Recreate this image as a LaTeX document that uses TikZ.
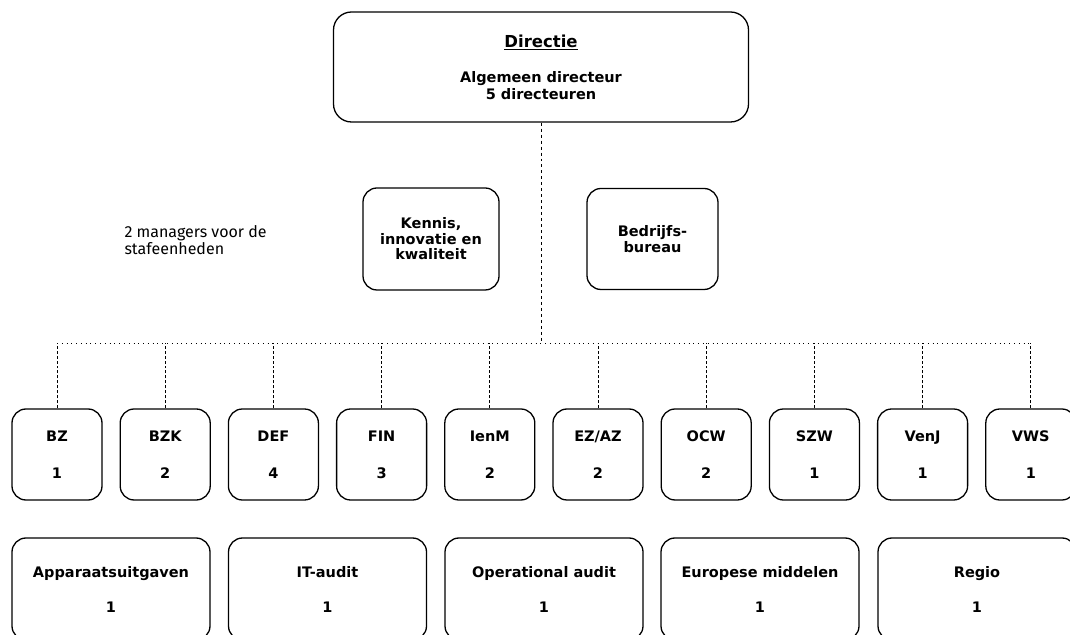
\documentclass[tikz,border=0pt]{standalone}
\usepackage{fontspec}
\setmainfont{Fira Sans}
\newfontfamily\orgfont{DejaVu Sans}

\begin{document}
\begin{tikzpicture}[line join=bevel,
  unit/.style={draw,rectangle,rounded corners=14bp,line width=1.3bp,align=center,inner sep=0pt,
    font=\orgfont\bfseries\fontsize{14.5bp}{17bp}\selectfont},
  dept/.style={unit,minimum width=90bp,minimum height=91bp},
  staf/.style={unit,minimum width=198bp,minimum height=102bp},
  link/.style={densely dashed,line width=0.8bp},
  bar/.style={loosely dotted,line width=0.8bp}]
\useasboundingbox (0,0) rectangle (1070bp,635bp);
\clip (0,0) rectangle (1070bp,635bp);
%%
\node (dir) at (541bp,568bp) [unit,minimum width=415bp,minimum height=110bp,rounded corners=18bp]
  {{\fontsize{16.5bp}{17bp}\selectfont\underline{Directie}}\\[18bp]Algemeen directeur\\5 directeuren};
\node (kiq) at (431bp,396bp) [unit,minimum width=136bp,minimum height=102bp,
  font=\orgfont\bfseries\fontsize{14.5bp}{15.5bp}\selectfont] {Kennis,\\innovatie en\\kwaliteit};
\node (bb) at (652.5bp,396bp) [unit,minimum width=131bp,minimum height=101bp,
  font=\orgfont\bfseries\fontsize{14.5bp}{15.5bp}\selectfont] {Bedrijfs-\\bureau};
\node (mgr) at (121bp,395bp) [anchor=west,align=left,font=\fontsize{16bp}{16.5bp}\selectfont]
  {2 managers voor de\\stafeenheden};
%% departementen
\node (bz) at (57bp,180.5bp) [dept] {BZ\\[20bp]1};
\node (bzk) at (165.2bp,180.5bp) [dept] {BZK\\[20bp]2};
\node (def) at (273.4bp,180.5bp) [dept] {DEF\\[20bp]4};
\node (fin) at (381.6bp,180.5bp) [dept] {FIN\\[20bp]3};
\node (ienm) at (489.8bp,180.5bp) [dept] {IenM\\[20bp]2};
\node (ezaz) at (598bp,180.5bp) [dept] {EZ/AZ\\[20bp]2};
\node (ocw) at (706.2bp,180.5bp) [dept] {OCW\\[20bp]2};
\node (szw) at (814.4bp,180.5bp) [dept] {SZW\\[20bp]1};
\node (venj) at (922.6bp,180.5bp) [dept] {VenJ\\[20bp]1};
\node (vws) at (1030.8bp,180.5bp) [dept] {VWS\\[20bp]1};
%% doorsnijdende eenheden
\node (app) at (111bp,46bp) [staf] {Apparaatsuitgaven\\[18bp]1};
\node (it) at (327.5bp,46bp) [staf] {IT-audit\\[18bp]1};
\node (opa) at (544bp,46bp) [staf] {Operational audit\\[18bp]1};
\node (eum) at (760bp,46bp) [staf] {Europese middelen\\[18bp]1};
\node (reg) at (977bp,46bp) [staf] {Regio\\[18bp]1};
%% lijnen
\coordinate (hl) at (57bp,292bp);
\coordinate (hr) at (1030.8bp,292bp);
\draw [bar] (hl) -- (hr);
\draw [link,dashed] (dir) -- (dir |- hl);
\draw [link] (bz) -- (bz |- hl);
\draw [link] (bzk) -- (bzk |- hl);
\draw [link] (def) -- (def |- hl);
\draw [link] (fin) -- (fin |- hl);
\draw [link] (ienm) -- (ienm |- hl);
\draw [link] (ezaz) -- (ezaz |- hl);
\draw [link] (ocw) -- (ocw |- hl);
\draw [link] (szw) -- (szw |- hl);
\draw [link] (venj) -- (venj |- hl);
\draw [link] (vws) -- (vws |- hl);
%
\end{tikzpicture}
\end{document}
